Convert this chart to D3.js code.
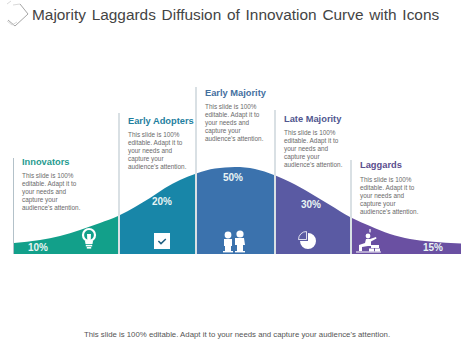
<!DOCTYPE html>
<html>
<head>
<meta charset="utf-8">
<script src="https://cdn.jsdelivr.net/npm/d3@7"></script>
<style>
  html, body { margin: 0; padding: 0; background: #fff; }
  svg { display: block; font-family: "Liberation Sans", Arial, sans-serif; }
</style>
</head>
<body>
<div id="chart"></div>
<script>
var titleText = 'Majority Laggards Diffusion of Innovation Curve with Icons'
var footerText = "This slide is 100% editable. Adapt it to your needs and capture your audience's attention."

var stages = ['Innovators', 'Early Adopters', 'Early Majority', 'Late Majority', 'Laggards']
var percents = [10, 20, 50, 30, 15]
var stageStart = [0, 106, 183, 262, 338]
var stageEnd = [104, 181, 260, 336, 447]
var bodyLines = ['This slide is 100%', 'editable.  Adapt it to', 'your needs  and', 'capture your', "audience's  attention."]

// curve
var curveX = [0, 26, 46, 66, 86, 104, 121, 136, 151, 166, 181, 201, 221, 241, 260, 276, 296, 316, 336, 356, 376, 396, 416, 447]
var curveY = [11, 14, 18, 24, 31, 38, 47, 56, 66, 74, 80, 85.5, 87, 85, 79, 72, 61, 49, 37, 28, 20, 15, 12.5, 10.5]

var w = 474
var h = 355
var baseY = 254

var colors = ['#12a08a', '#1886a8', '#3b72ad', '#5a5aa3', '#6a50a2']
var headColors = ['#1f9b8f', '#1f7fa0', '#44709f', '#51578f', '#5b4e8e']

// per stage layout: top of rule, header baseline, percent label centre and baseline
var ruleTop = [158, 113, 87, 110, 160]
var headY = [165, 124, 96, 122, 168]
var bodyY = [178, 137, 109, 135, 182]
var pctX = [38, 162, 233, 311, 433]
var pctY = [251, 205, 181, 208, 251]

var x = d3.scaleLinear().domain([0, 447]).range([14, 461])
var y = d3.scaleLinear().domain([0, 87]).range([baseY, 167])

var points = curveX.map(function (d, i) { return [d, curveY[i]] })

var area = d3.area()
  .x(function (d) { return x(d[0]) })
  .y0(baseY)
  .y1(function (d) { return y(d[1]) })
  .curve(d3.curveMonotoneX)

var svg = d3.select('#chart')
  .append('svg')
  .attr('width', w)
  .attr('height', h)

var defs = svg.append('defs')

stages.forEach(function (s, i) {
  defs.append('clipPath')
    .attr('id', 'seg' + i)
    .append('rect')
    .attr('x', x(stageStart[i]))
    .attr('y', 0)
    .attr('width', x(stageEnd[i]) - x(stageStart[i]))
    .attr('height', h)
})

// Header icon
var headIcon = svg.append('g')
  .attr('fill', 'none')
  .attr('stroke', '#9a9a9a')
headIcon.append('path')
  .attr('d', 'M20,4 L28,14 L15,26 L8,20')
  .attr('stroke-width', 0.9)
headIcon.append('path')
  .attr('d', 'M7,4 L11,1 M7,21 L12,25 L17,22 M13,5 L20,4')
  .attr('stroke', '#cfcfcf')
  .attr('stroke-width', 0.8)

svg.append('text')
  .attr('x', 32)
  .attr('y', 20)
  .attr('fill', '#444')
  .attr('font-size', 15.4)
  .attr('word-spacing', 1.5)
  .text(titleText)

// Curve segments
svg.selectAll('.segment')
  .data(stages)
  .enter()
  .append('path')
  .attr('class', 'segment')
  .attr('d', area(points))
  .attr('fill', function (d, i) { return colors[i] })
  .attr('clip-path', function (d, i) { return 'url(#seg' + i + ')' })

// Rules
svg.selectAll('.rule')
  .data(stages)
  .enter()
  .append('line')
  .attr('class', 'rule')
  .attr('x1', function (d, i) { return i == 0 ? x(0) - 0.5 : x(stageStart[i]) - 1 })
  .attr('x2', function (d, i) { return i == 0 ? x(0) - 0.5 : x(stageStart[i]) - 1 })
  .attr('y1', function (d, i) { return ruleTop[i] })
  .attr('y2', baseY)
  .attr('stroke', '#b3c1c9')
  .attr('stroke-width', 1)

// Headers and body text
svg.selectAll('.head')
  .data(stages)
  .enter()
  .append('text')
  .attr('class', 'head')
  .attr('x', function (d, i) { return x(stageStart[i]) + 8 })
  .attr('y', function (d, i) { return headY[i] })
  .attr('fill', function (d, i) { return headColors[i] })
  .attr('font-size', 9.3)
  .attr('font-weight', 'bold')
  .text(function (d) { return d })

stages.forEach(function (s, i) {
  svg.append('g')
    .selectAll('text')
    .data(bodyLines)
    .enter()
    .append('text')
    .attr('x', x(stageStart[i]) + 8)
    .attr('y', function (d, j) { return bodyY[i] + j * 8 })
    .attr('fill', '#6a6a6a')
    .attr('font-size', 6.4)
    .text(function (d) { return d })
})

// Percent labels
svg.selectAll('.pct')
  .data(percents)
  .enter()
  .append('text')
  .attr('class', 'pct')
  .attr('x', function (d, i) { return pctX[i] })
  .attr('y', function (d, i) { return pctY[i] })
  .attr('text-anchor', 'middle')
  .attr('fill', '#e8f4f4')
  .attr('font-size', 10)
  .attr('font-weight', 'bold')
  .text(function (d) { return d + '%' })

// Icons
var bulb = svg.append('g').attr('transform', 'translate(89,238)').attr('fill', '#fff')
bulb.append('circle').attr('cy', -3).attr('r', 6).attr('fill', 'none').attr('stroke', '#fff').attr('stroke-width', 2.2)
bulb.append('path').attr('d', 'M-2,-4 L2,-4 L1.6,4 L-1.6,4 Z')
bulb.append('path').attr('d', 'M-4,3 L4,3 L3.5,6 L-3.5,6 Z')
bulb.append('rect').attr('x', -3.2).attr('y', 6.8).attr('width', 6.4).attr('height', 1.6)
bulb.append('rect').attr('x', -2.2).attr('y', 9).attr('width', 4.4).attr('height', 1.6)

var check = svg.append('g').attr('transform', 'translate(162,241)')
check.append('rect').attr('x', -8).attr('y', -8).attr('width', 16).attr('height', 16).attr('fill', '#fff')
check.append('path')
  .attr('d', 'M-3.6,0 L-1,2.6 L3.8,-2')
  .attr('fill', 'none')
  .attr('stroke', '#1f5f80')
  .attr('stroke-width', 1.5)

var people = svg.append('g').attr('transform', 'translate(234,241)').attr('fill', '#fff')
people.append('circle').attr('cx', -6).attr('cy', -6).attr('r', 3.4)
people.append('path').attr('d', 'M-10,-2 L-2,-2 L-2,5 L-3,5 L-3,10 L-9,10 L-9,5 L-10,5 Z')
people.append('rect').attr('x', -11).attr('y', 10).attr('width', 10).attr('height', 1.4)
people.append('circle').attr('cx', 6).attr('cy', -7).attr('r', 3.6)
people.append('path').attr('d', 'M1,-3 L10,-3 L11,4 L9,4 L9,10 L3,10 L3,4 L1,4 Z')
people.append('rect').attr('x', 1).attr('y', 10).attr('width', 10).attr('height', 1.4)

var pieIcon = d3.arc().innerRadius(0).outerRadius(8)
var pie = svg.append('g').attr('transform', 'translate(308,241)').attr('fill', '#fff')
pie.append('path').attr('d', pieIcon({ startAngle: 0, endAngle: Math.PI * 1.5 }))
pie.append('path')
  .attr('transform', 'translate(-1.5,-1.5)')
  .attr('d', pieIcon({ startAngle: Math.PI * 1.5, endAngle: Math.PI * 2 }))
  .attr('fill', 'none')
  .attr('stroke', '#fff')
  .attr('stroke-width', 0.8)

var lag = svg.append('g').attr('transform', 'translate(370,243)').attr('fill', '#fff')
lag.append('circle').attr('cx', -2).attr('cy', -7).attr('r', 2.4)
lag.append('path').attr('d', 'M-4,-4 L0,-4 L6,-6 L6.5,-4.5 L1,-1.5 L1,3 L-2,3 L-8,4 L-8,8 L-11,8 L-11,2 L-5,0 Z')
lag.append('rect').attr('x', 1).attr('y', 2).attr('width', 8).attr('height', 3)
lag.append('rect').attr('x', -1).attr('y', 5.5).attr('width', 5).attr('height', 3)
lag.append('rect').attr('x', 5).attr('y', 5.5).attr('width', 5).attr('height', 3)
lag.append('rect').attr('x', -14).attr('y', 8.5).attr('width', 25).attr('height', 1)
lag.append('rect').attr('x', -0.6).attr('y', -14).attr('width', 1.2).attr('height', 3.4)

svg.append('text')
  .attr('x', 237)
  .attr('y', 336.5)
  .attr('text-anchor', 'middle')
  .attr('fill', '#555')
  .attr('font-size', 7.8)
  .text(footerText)
</script>
</body>
</html>
